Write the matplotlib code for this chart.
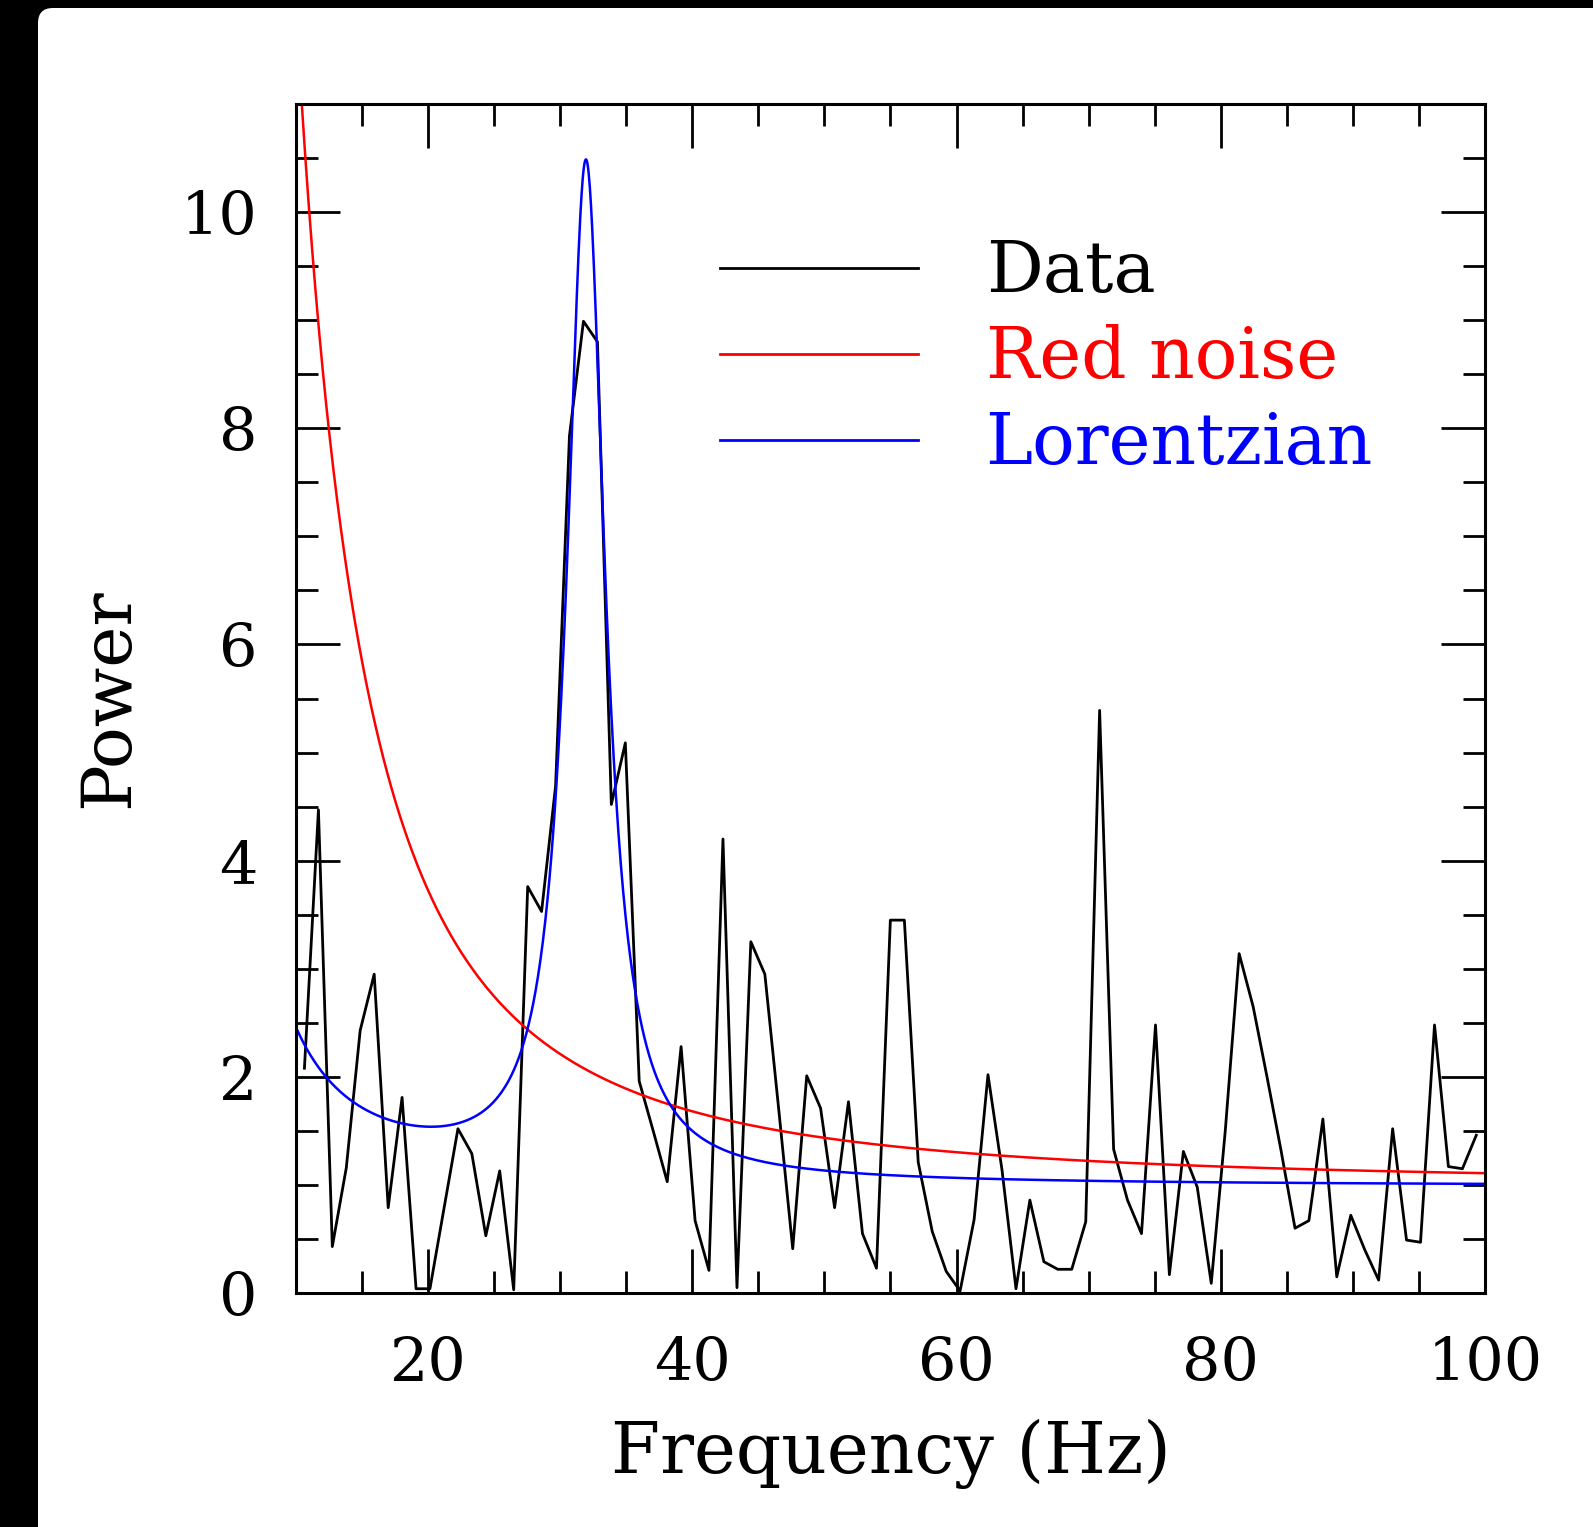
import numpy as np
import matplotlib.pyplot as plt
from matplotlib.patches import FancyBboxPatch
from matplotlib.lines import Line2D

# Periodogram bins (Hz) and measured power
freq = [10.64, 11.70, 12.75, 13.81, 14.86, 15.92, 16.98, 18.03, 19.09, 20.14,
        21.20, 22.26, 23.31, 24.37, 25.42, 26.48, 27.54, 28.59, 29.65, 30.70,
        31.76, 32.82, 33.87, 34.93, 35.98, 37.04, 38.10, 39.15, 40.21, 41.26,
        42.32, 43.38, 44.43, 45.49, 46.54, 47.60, 48.66, 49.71, 50.77, 51.82,
        52.88, 53.94, 54.99, 56.05, 57.10, 58.16, 59.22, 60.27, 61.33, 62.38,
        63.44, 64.50, 65.55, 66.61, 67.66, 68.72, 69.78, 70.83, 71.89, 72.94,
        74.00, 75.06, 76.11, 77.17, 78.22, 79.28, 80.34, 81.39, 82.45, 83.50,
        84.56, 85.62, 86.67, 87.73, 88.78, 89.84, 90.90, 91.95, 93.01, 94.06,
        95.12, 96.18, 97.23, 98.29, 99.34]
power = [2.08, 4.47, 0.43, 1.16, 2.43, 2.95, 0.79, 1.81, 0.04, 0.04,
         0.78, 1.52, 1.29, 0.53, 1.13, 0.03, 3.76, 3.53, 4.69, 7.93,
         8.99, 8.80, 4.52, 5.09, 1.96, 1.50, 1.03, 2.28, 0.67, 0.21,
         4.20, 0.05, 3.25, 2.95, 1.70, 0.41, 2.01, 1.71, 0.79, 1.77,
         0.55, 0.23, 3.45, 3.45, 1.21, 0.57, 0.20, 0.02, 0.68, 2.02,
         1.14, 0.04, 0.86, 0.29, 0.22, 0.22, 0.66, 5.39, 1.33, 0.86,
         0.55, 2.48, 0.17, 1.31, 0.98, 0.09, 1.50, 3.14, 2.65, 2.00,
         1.32, 0.60, 0.67, 1.61, 0.15, 0.72, 0.40, 0.12, 1.52, 0.49,
         0.47, 2.48, 1.17, 1.15, 1.46]

# model parameters
rn_amp, rn_index, rn_const = 1090.0, 2.0, 1.0
lor_centre, lor_fwhm, lor_norm = 31.95, 3.5, 9.36
lor_red_amp, lor_const = 141.0, 0.99

f_model = np.linspace(10, 100, 2000)
red_noise = rn_const + rn_amp * f_model ** -rn_index
hw = lor_fwhm / 2
lorentz = (lor_const + lor_red_amp * f_model ** -rn_index
           + lor_norm * hw ** 2 / ((f_model - lor_centre) ** 2 + hw ** 2))

plt.rcParams['font.family'] = ['DejaVu Serif']

fig = plt.figure(figsize=(15.93, 15.27), dpi=100, facecolor='black')
panel = FancyBboxPatch((0.38, -0.5), 16.0, 15.69,
                       boxstyle="round,pad=0,rounding_size=0.15",
                       transform=fig.dpi_scale_trans,
                       facecolor='white', edgecolor='none', zorder=-10)
fig.patches.append(panel)

ax = fig.add_axes([0.1858, 0.1532, 0.7464, 0.7787])
ax.set_facecolor('white')
ax.plot(freq, power, color='black', lw=2.0)
ax.plot(f_model, red_noise, color='red', lw=1.8)
ax.plot(f_model, lorentz, color='blue', lw=1.8)

ax.set_xlim(10, 100)
ax.set_ylim(0, 11)
ax.set_xticks([20, 40, 60, 80, 100])
ax.set_xticks(np.arange(10, 101, 5), minor=True)
ax.set_yticks([0, 2, 4, 6, 8, 10])
ax.set_yticks(np.arange(0, 11.01, 0.5), minor=True)
ax.tick_params(which='both', direction='in', top=True, right=True, width=2.0)
ax.tick_params(which='major', length=32, labelsize=43.5)
ax.tick_params(axis='x', which='major', pad=30)
ax.tick_params(axis='y', which='major', pad=28)
ax.tick_params(which='minor', length=16)
for s in ax.spines.values():
    s.set_linewidth(2.2)

ax.set_xlabel('Frequency (Hz)', fontsize=51)
ax.set_ylabel('Power', fontsize=50)
ax.xaxis.set_label_coords(0.5, -0.106)
ax.yaxis.set_label_coords(-0.129, 0.5)

handles = [Line2D([], [], color='black', lw=2.0),
           Line2D([], [], color='red', lw=2.0),
           Line2D([], [], color='blue', lw=2.0)]
ax.legend(handles, ['Data', 'Red noise', 'Lorentzian'], loc='upper left',
          bbox_to_anchor=(0.3566, 0.887), frameon=False, fontsize=51,
          handlelength=2.8, handletextpad=0.95, labelspacing=0.24,
          borderpad=0, borderaxespad=0,
          labelcolor=['black', 'red', 'blue'])

fig.savefig('out.png', dpi=100, facecolor='black')
